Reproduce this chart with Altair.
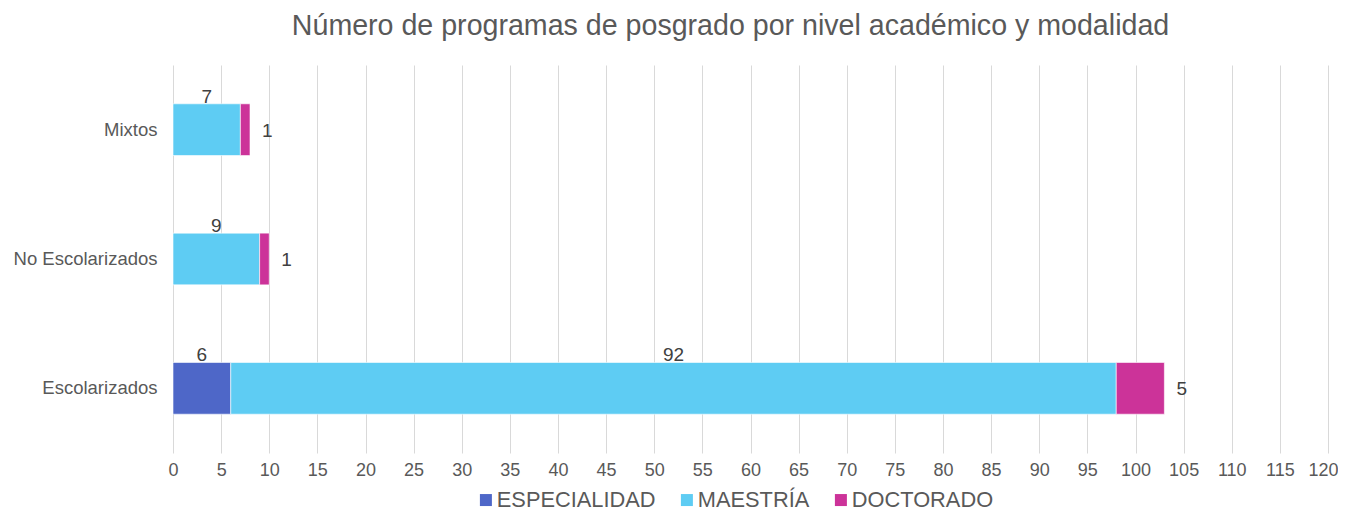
import altair as alt
import pandas as pd

modalidades = ["Mixtos", "No Escolarizados", "Escolarizados"]
niveles = ["ESPECIALIDAD", "MAESTRÍA", "DOCTORADO"]
colores = ["#4E67C8", "#5ECCF3", "#CC3399"]
especialidad = [0, 0, 6]
maestria = [7, 9, 92]
doctorado = [1, 1, 5]
ticks_x = list(range(0, 121, 5))

rows = []
for i, m in enumerate(modalidades):
    start = 0
    for j, (n, v) in enumerate(zip(niveles, [especialidad[i], maestria[i], doctorado[i]])):
        if v > 0:
            rows.append({"modalidad": m, "nivel": n, "orden": j, "valor": v,
                         "x0": start, "x1": start + v, "xm": start + v / 2})
        start += v
df = pd.DataFrame(rows)

W, H = 1155, 388
font = "Liberation Sans"

y_enc = alt.Y("modalidad:N", sort=modalidades, title=None,
              scale=alt.Scale(paddingInner=0.6, paddingOuter=0.3),
              axis=alt.Axis(labelFontSize=18.5, labelColor="#595959", labelFont=font,
                            ticks=False, domain=False, labelPadding=16))
x_scale = alt.Scale(domain=[0, 120], nice=False)

bars = alt.Chart(df).mark_bar(stroke="white", strokeWidth=0.6).encode(
    x=alt.X("x0:Q", scale=x_scale, title=None,
            axis=alt.Axis(values=ticks_x, labelFontSize=18, labelColor="#595959",
                          labelFont=font, grid=True, gridColor="#D9D9D9", ticks=False,
                          domain=False, labelPadding=8, labelFlush=False,
                          labelOverlap=False,
                          labelAlign={"condition": {"test": "datum.value == 120", "value": "right"},
                                      "value": "center"},
                          labelOffset={"condition": {"test": "datum.value == 120", "value": 10},
                                       "value": 0})),
    x2="x1:Q",
    y=y_enc,
    color=alt.Color("nivel:N", sort=niveles,
                    scale=alt.Scale(domain=niveles, range=colores),
                    legend=alt.Legend(title=None, orient="none", direction="horizontal",
                                      legendX=302, legendY=424, padding=0,
                                      labelFontSize=21.8, labelColor="#595959", labelFont=font,
                                      symbolType="square", symbolSize=144,
                                      symbolStrokeWidth=0, columnPadding=20,
                                      labelOffset=0)),
)

top_labels = alt.Chart(df[df["nivel"] != "DOCTORADO"]).mark_text(
    fontSize=19, color="#404040", font=font, baseline="alphabetic", dy=-27
).encode(
    x=alt.X("xm:Q", scale=x_scale),
    y=alt.Y("modalidad:N", sort=modalidades),
    text="valor:Q",
)

right_labels = alt.Chart(df[df["nivel"] == "DOCTORADO"]).mark_text(
    fontSize=19, color="#404040", font=font, align="left", baseline="middle", dx=12, dy=1
).encode(
    x=alt.X("x1:Q", scale=x_scale),
    y=alt.Y("modalidad:N", sort=modalidades),
    text="valor:Q",
)

chart = alt.layer(bars, top_labels, right_labels).properties(
    width=W, height=H,
    title=alt.TitleParams("Número de programas de posgrado por nivel académico y modalidad",
                          fontSize=28.6, font=font, fontWeight="normal", color="#595959",
                          anchor="middle", dx=-20, offset=24),
    autosize=alt.AutoSizeParams(type="none"),
    padding={"left": 165, "top": 57, "right": 10, "bottom": 60},
).configure_view(stroke=None)

chart.save("out.html", embed_options={"renderer": "svg", "actions": False})
